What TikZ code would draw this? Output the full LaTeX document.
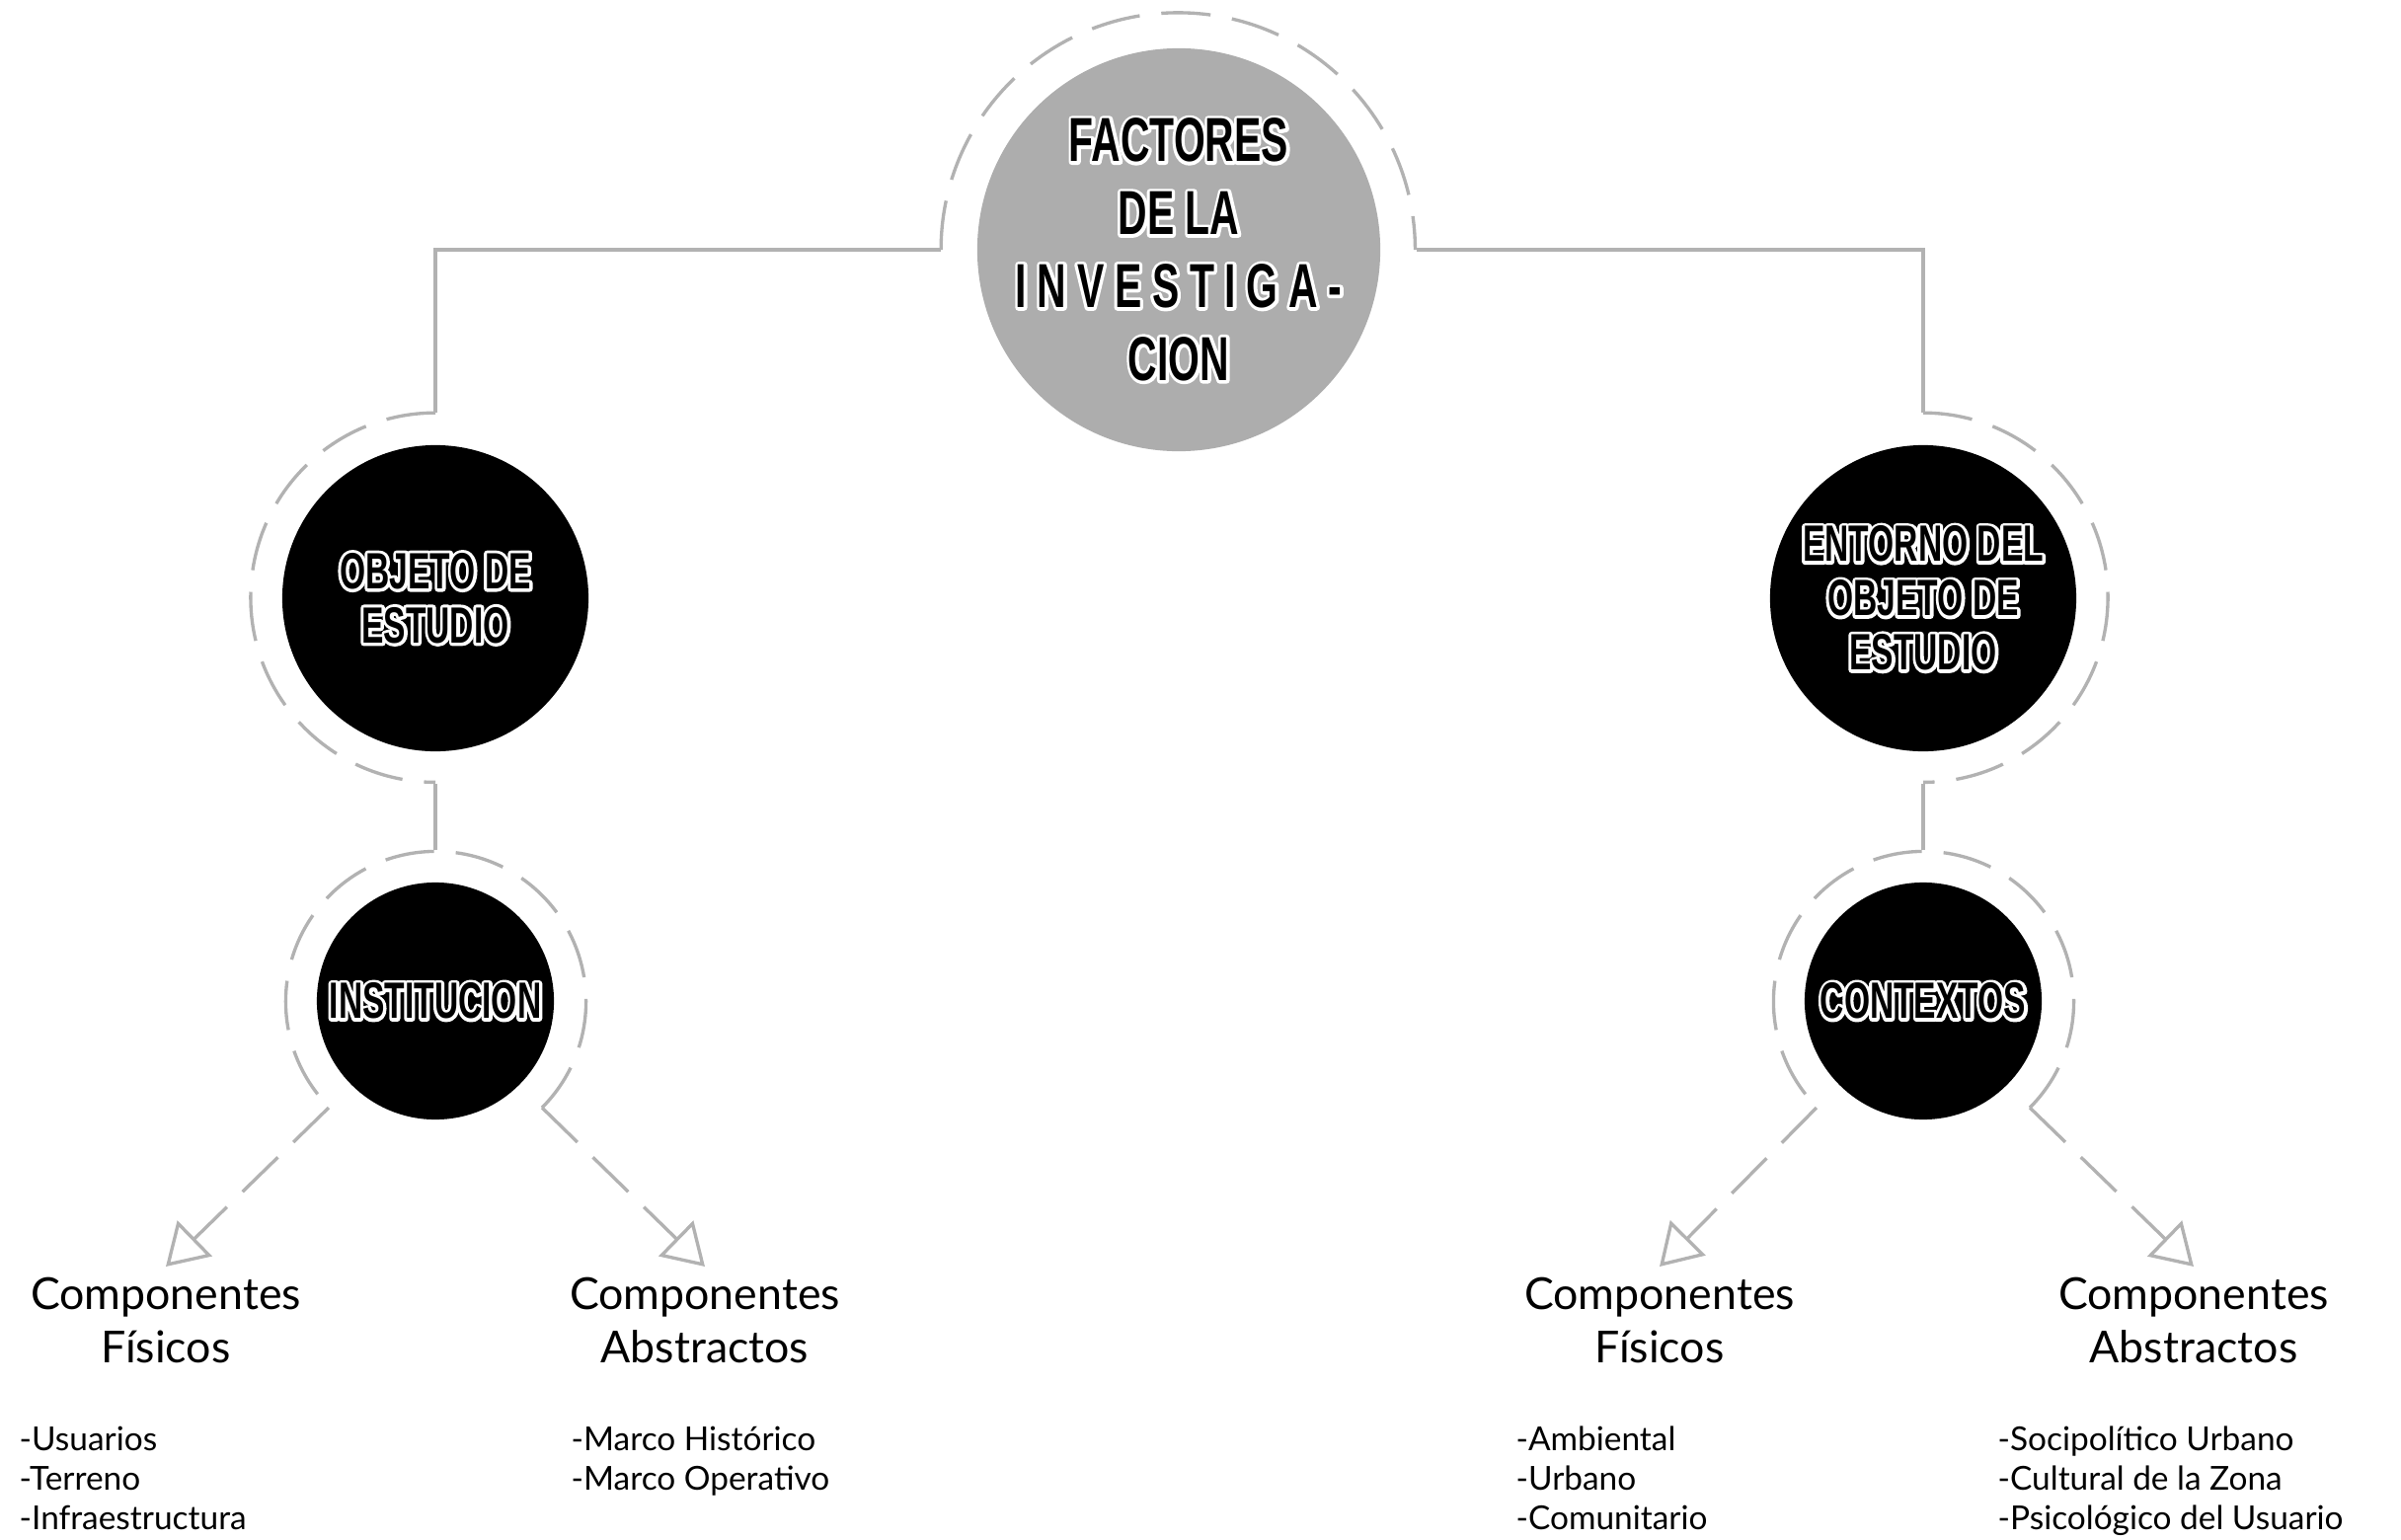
\documentclass[tikz,border=0pt]{standalone}
\usepackage{fontspec}
\setmainfont{Lato}
\newfontfamily\headfont[FakeStretch=0.65]{Liberation Sans}
\usetikzlibrary{arrows.meta}
\definecolor{lgray}{RGB}{178,178,178}
\definecolor{hubgray}{RGB}{173,173,173}
\newcommand{\hl}[1]{\rlap{\special{pdf:literal direct 1 1 1 RG 1 Tr 1.8 w 1 j}#1%
    \special{pdf:literal direct 0 Tr 0 0 0 RG 0.398 w 0 j}}#1}

\begin{document}
\begin{tikzpicture}[x=0.01cm,y=0.01cm,
    hub/.style={circle,fill=hubgray,minimum size=4.08cm,inner sep=-1cm,align=center,
        font=\headfont\bfseries\fontsize{17.9}{21}\selectfont},
    blob/.style={circle,fill=black,inner sep=-0.5cm,align=center,
        font=\headfont\bfseries\fontsize{14.7}{15.6}\selectfont},
    halo/.style={circle,minimum size=#1,inner sep=0pt},
    link/.style={draw=lgray,line width=0.95pt},
    dring/.style={link,dash pattern=on 0.5cm off 0.22cm},
    arr/.style={dring,-{Triangle[open,length=4.1mm,width=5mm]}},
    comp/.style={align=center,inner sep=0.1cm,anchor=north,font=\fontsize{12.7}{15.6}\selectfont},
    items/.style={align=left,inner sep=0pt,anchor=north west,font=\fontsize{9.5}{11.4}\selectfont}]
    \useasboundingbox (0,0) rectangle (2432,-1560);

    \node[hub] (fac) at (1194,-253) {\hl{FACTORES}\\\hl{DE LA}\\
        {\addfontfeatures{LetterSpace=17}\hl{INVESTIGA-}}\\\hl{CION}};
    \node[halo=4.8cm] (facR) at (fac) {};

    \node[blob,minimum size=3.1cm] (obj) at (441,-606) {\hl{OBJETO DE}\\\hl{ESTUDIO}};
    \node[halo=3.74cm] (objR) at (obj) {};
    \node[blob,minimum size=3.1cm] (ent) at (1948,-606) {\hl{ENTORNO DEL}\\\hl{OBJETO DE}\\\hl{ESTUDIO}};
    \node[halo=3.74cm] (entR) at (ent) {};

    \node[blob,minimum size=2.4cm] (ins) at (441,-1014) {\hl{INSTITUCION}};
    \node[halo=3.04cm] (insR) at (ins) {};
    \node[blob,minimum size=2.4cm] (ctx) at (1948,-1014) {\hl{CONTEXTOS}};
    \node[halo=3.04cm] (ctxR) at (ctx) {};

    \draw[dring] (facR.west) arc[start angle=180,end angle=0,radius=2.4cm];
    \draw[dring] (objR.north) arc[start angle=90,end angle=270,radius=1.87cm];
    \draw[dring] (entR.north) arc[start angle=90,end angle=-90,radius=1.87cm];
    \draw[dring] (insR.-45) arc[start angle=-45,end angle=225,radius=1.52cm];
    \draw[dring] (ctxR.-45) arc[start angle=-45,end angle=225,radius=1.52cm];

    \draw[link] (facR.west) -| (objR.north);
    \draw[link] (facR.east) -| (entR.north);
    \draw[link] (objR.south) -- (insR.north);
    \draw[link] (entR.south) -- (ctxR.north);

    \node[comp] (insF) at (168,-1283) {Componentes\\Físicos};
    \node[comp] (insA) at (714,-1283) {Componentes\\Abstractos};
    \node[comp] (ctxF) at (1681,-1283) {Componentes\\Físicos};
    \node[comp] (ctxA) at (2222,-1283) {Componentes\\Abstractos};

    \draw[arr] (insR.225) -- (insF.north);
    \draw[arr] (insR.-45) -- (insA.north);
    \draw[arr] (ctxR.225) -- (ctxF.north);
    \draw[arr] (ctxR.-45) -- (ctxA.north);

    \node[items] (insFl) at (19,-1444) {-Usuarios\\-Terreno\\-Infraestructura};
    \node[items] (insAl) at (578,-1444) {-Marco Histórico\\-Marco Operativo};
    \node[items] (ctxFl) at (1535,-1444) {-Ambiental\\-Urbano\\-Comunitario};
    \node[items] (ctxAl) at (2023,-1444) {-Socipolítico Urbano\\-Cultural de la Zona\\-Psicológico del Usuario};
\end{tikzpicture}
\end{document}
